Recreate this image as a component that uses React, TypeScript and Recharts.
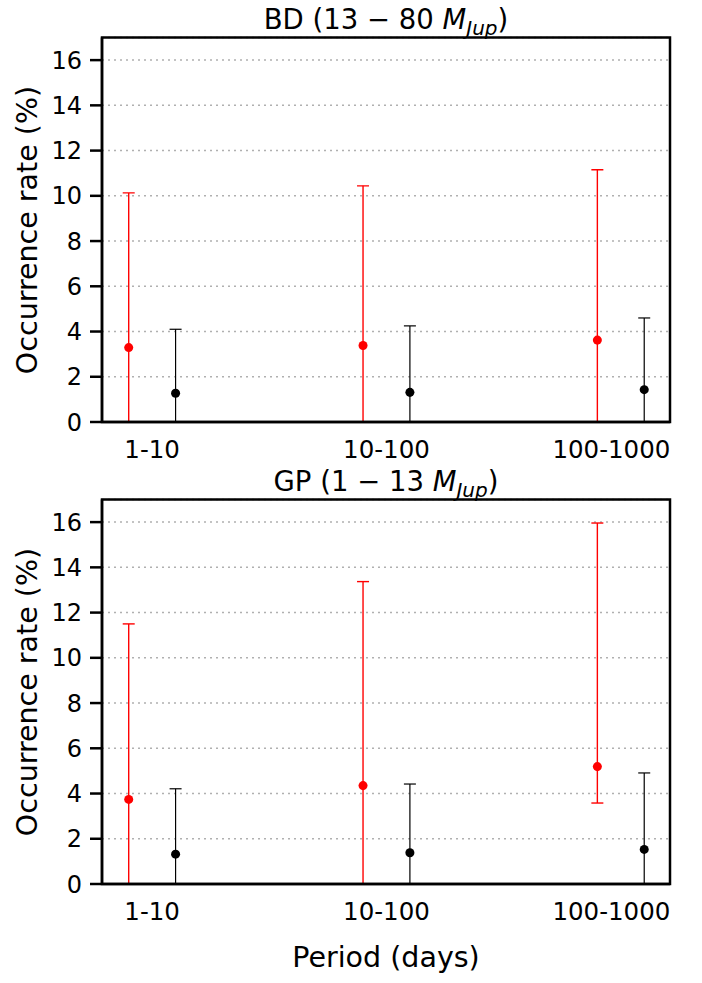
import { ScatterChart, Scatter, XAxis, YAxis, CartesianGrid, ErrorBar } from 'recharts';

// period bins and where their labels sit on the x scale
const periodBins = ['1-10', '10-100', '100-1000'];
const binIndex = [0, 1, 2];
const tickPositions = [0, 1, 1.96];
const yTicks = [0, 2, 4, 6, 8, 10, 12, 14, 16];

// BD (13 - 80 MJup)
const bdRedRate = [3.29, 3.38, 3.62];
const bdRedUpper = [10.13, 10.44, 11.15];
const bdRedLower = [-1, -1, -1];
const bdBlackRate = [1.27, 1.31, 1.43];
const bdBlackUpper = [4.1, 4.25, 4.6];
const bdBlackLower = [-1, -1, -1];

// GP (1 - 13 MJup)
const gpRedRate = [3.74, 4.35, 5.19];
const gpRedUpper = [11.5, 13.37, 15.96];
const gpRedLower = [-1, -1, 3.58];
const gpBlackRate = [1.32, 1.38, 1.53];
const gpBlackUpper = [4.21, 4.42, 4.91];
const gpBlackLower = [-1, -1, -1];

const FONT = 'DejaVu Sans';
const X_DOMAIN: [number, number] = [-0.214, 2.21];
const OFFSET = 0.1;

function build(rate: number[], upper: number[], lower: number[], shift: number) {
  return binIndex.map((i) => ({
    x: i + shift,
    y: rate[i],
    err: [rate[i] - lower[i], upper[i] - rate[i]],
  }));
}

function Panel({ red, black }: { red: any[]; black: any[] }) {
  return (
    <ScatterChart width={702} height={475} margin={{ top: 37.5, right: 32, bottom: 15, left: 0 }}>
      <CartesianGrid vertical={false} stroke="#b0b0b0" strokeDasharray="2 4" strokeWidth={1.5} />
      <XAxis
        type="number"
        dataKey="x"
        domain={X_DOMAIN}
        ticks={tickPositions}
        tickFormatter={(v) => periodBins[tickPositions.indexOf(v)] ?? ''}
        allowDataOverflow
        height={38}
        tickLine={false}
        tickSize={12}
        tickMargin={7}
        axisLine={{ stroke: '#000', strokeWidth: 2.5 }}
        tick={{ fill: '#000', fontSize: 24.5, fontFamily: FONT }}
        interval={0}
      />
      <YAxis
        type="number"
        dataKey="y"
        domain={[0, 17]}
        ticks={yTicks}
        allowDataOverflow
        width={102}
        tickSize={12}
        tickMargin={8}
        tickLine={{ stroke: '#000', strokeWidth: 2.5 }}
        axisLine={{ stroke: '#000', strokeWidth: 2.5 }}
        tick={{ fill: '#000', fontSize: 24, fontFamily: FONT }}
      />
      <Scatter data={red} fill="#ff0000" isAnimationActive={false}>
        <ErrorBar dataKey="err" direction="y" width={6} stroke="#ff0000" strokeWidth={1.4}
          clipPath="url(#plotClip)" isAnimationActive={false} />
      </Scatter>
      <Scatter data={black} fill="#000" isAnimationActive={false}>
        <ErrorBar dataKey="err" direction="y" width={6} stroke="#000" strokeWidth={1.2}
          clipPath="url(#plotClip)" isAnimationActive={false} />
      </Scatter>
    </ScatterChart>
  );
}

function Mjup() {
  return (
    <>
      <tspan fontStyle="italic">M</tspan>
      <tspan fontStyle="italic" fontSize={20} dy={6}>Jup</tspan>
      <tspan dy={-6}>)</tspan>
    </>
  );
}

export default function App() {
  const txt = { fontFamily: FONT, fill: '#000' };
  return (
    <div style={{ position: 'absolute', left: 0, top: 0, width: 702, height: 983, background: '#fff' }}>
      <svg width={0} height={0} style={{ position: 'absolute' }}>
        <defs>
          <clipPath id="plotClip">
            <rect x={102} y={37.5} width={568} height={384.5} />
          </clipPath>
        </defs>
      </svg>
      <div style={{ position: 'absolute', left: 0, top: 0 }}>
        <Panel red={build(bdRedRate, bdRedUpper, bdRedLower, -OFFSET)} black={build(bdBlackRate, bdBlackUpper, bdBlackLower, OFFSET)} />
      </div>
      <div style={{ position: 'absolute', left: 0, top: 462 }}>
        <Panel red={build(gpRedRate, gpRedUpper, gpRedLower, -OFFSET)} black={build(gpBlackRate, gpBlackUpper, gpBlackLower, OFFSET)} />
      </div>
      <svg width={702} height={983} style={{ position: 'absolute', left: 0, top: 0, pointerEvents: 'none' }}>
        <rect x={102} y={37.5} width={568} height={384.5} fill="none" stroke="#000" strokeWidth={2.5} />
        <rect x={102} y={499.5} width={568} height={384.5} fill="none" stroke="#000" strokeWidth={2.5} />
        <text x={386} y={29} textAnchor="middle" fontSize={27.5} {...txt}>
          BD (13 − 80 <Mjup />
        </text>
        <text x={386} y={491} textAnchor="middle" fontSize={27.5} {...txt}>
          GP (1 − 13 <Mjup />
        </text>
        <text transform="translate(37,230) rotate(-90)" textAnchor="middle" fontSize={28.5} {...txt}>
          Occurrence rate (%)
        </text>
        <text transform="translate(37,692) rotate(-90)" textAnchor="middle" fontSize={28.5} {...txt}>
          Occurrence rate (%)
        </text>
        <text x={386} y={967} textAnchor="middle" fontSize={28.5} {...txt}>
          Period (days)
        </text>
      </svg>
    </div>
  );
}
